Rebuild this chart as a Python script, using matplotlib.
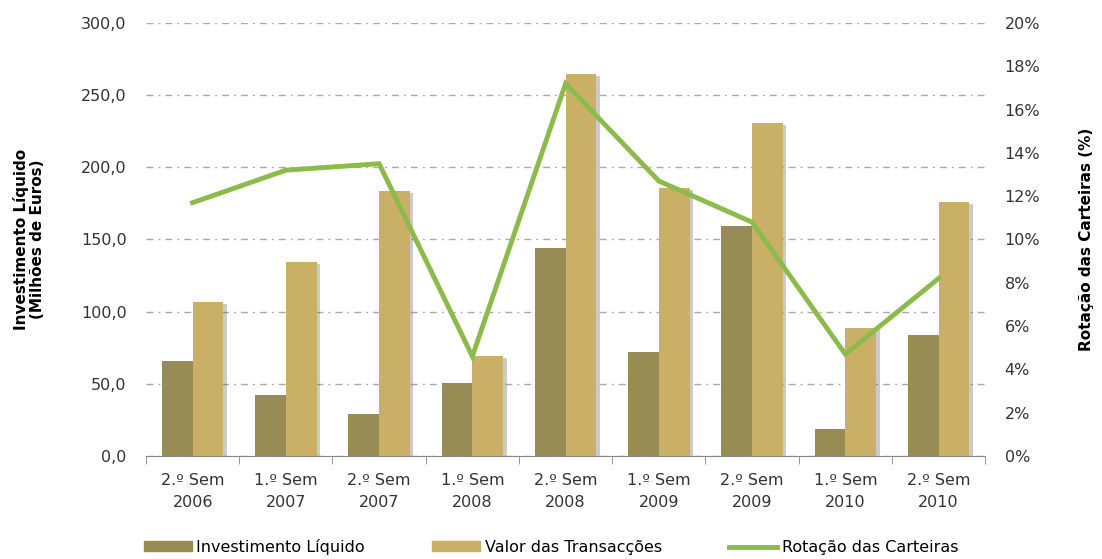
import matplotlib
matplotlib.use('Agg')
import matplotlib.pyplot as plt
import matplotlib.patheffects as pe
from matplotlib.patches import Patch
from matplotlib.lines import Line2D
from matplotlib.ticker import FuncFormatter, MultipleLocator
import numpy as np

# Dados
categorias = ['2.º Sem\n2006', '1.º Sem\n2007', '2.º Sem\n2007', '1.º Sem\n2008',
              '2.º Sem\n2008', '1.º Sem\n2009', '2.º Sem\n2009', '1.º Sem\n2010',
              '2.º Sem\n2010']
investimento = [66.0, 42.0, 29.0, 50.5, 144.0, 72.0, 159.5, 18.5, 83.5]
transaccoes = [107.0, 134.5, 183.5, 69.0, 264.5, 186.0, 231.0, 88.5, 176.0]
rotacao = [11.7, 13.2, 13.5, 4.6, 17.2, 12.7, 10.8, 4.7, 8.2]

cor_escura = '#968C54'
cor_clara = '#C9B066'
cor_linha = '#8CBB4C'
cor_texto = '#333333'

plt.rcParams['font.family'] = 'DejaVu Sans'

fig = plt.figure(figsize=(11.02, 5.59), dpi=100)
ax = fig.add_axes([0.1325, 0.1843, 0.7615, 0.7746])

x = np.arange(len(categorias))
largura = 0.33
sombra = [pe.SimplePatchShadow(offset=(2.5, -1.5), alpha=0.3, shadow_rgbFace='#555555'), pe.Normal()]

ax.bar(x - largura / 2, investimento, largura, color=cor_escura, zorder=3, path_effects=sombra)
ax.bar(x + largura / 2, transaccoes, largura, color=cor_clara, zorder=3, path_effects=sombra)

ax.set_xlim(-0.5, len(categorias) - 0.5)
ax.set_ylim(0, 300)
ax.yaxis.set_major_locator(MultipleLocator(50))
ax.yaxis.set_major_formatter(FuncFormatter(lambda v, p: f'{v:.1f}'.replace('.', ',')))
ax.grid(axis='y', color='#aaaaaa', linewidth=1, dashes=(5, 3.6, 1.4, 3.6), zorder=0)

ax.set_xticks(x)
ax.set_xticklabels(categorias, fontsize=11.5, color=cor_texto, linespacing=1.6)
ax.set_xticks(np.arange(-0.5, len(categorias)), minor=True)
ax.tick_params(axis='x', which='major', length=0, pad=12)
ax.tick_params(axis='x', which='minor', length=6, color='#888888', direction='out')
ax.tick_params(axis='y', length=0, labelsize=11.5, labelcolor=cor_texto, pad=14)

for lado in ['top', 'right', 'left']:
    ax.spines[lado].set_visible(False)
ax.spines['bottom'].set_color('#888888')

ax.set_ylabel('Investimento Líquido\n(Milhões de Euros)', fontsize=11, fontweight='bold',
              color='black', labelpad=26, linespacing=1.1)

ax2 = ax.twinx()
ax2.plot(x, rotacao, color=cor_linha, linewidth=3.5, zorder=4, solid_joinstyle='miter')
ax2.set_ylim(0, 20)
ax2.yaxis.set_major_locator(MultipleLocator(2))
ax2.yaxis.set_major_formatter(FuncFormatter(lambda v, p: f'{v:.0f}%'))
ax2.tick_params(axis='y', length=0, labelsize=11.5, labelcolor=cor_texto, pad=14)
for lado in ['top', 'right', 'left', 'bottom']:
    ax2.spines[lado].set_visible(False)
ax2.set_ylabel('Rotação das Carteiras (%)', fontsize=11, fontweight='bold', color='black', labelpad=28)

handles = [Patch(color=cor_escura), Patch(color=cor_clara), Line2D([0], [0], color=cor_linha, linewidth=3.5)]
rotulos = ['Investimento Líquido', 'Valor das Transacções', 'Rotação das Carteiras']
fig.legend(handles, rotulos, loc='lower center', bbox_to_anchor=(0.5, -0.018), ncol=3,
           frameon=False, fontsize=11.5, handlelength=3, handleheight=0.5,
           handletextpad=0.3, columnspacing=4.2)

fig.savefig('out.png', dpi=100)
